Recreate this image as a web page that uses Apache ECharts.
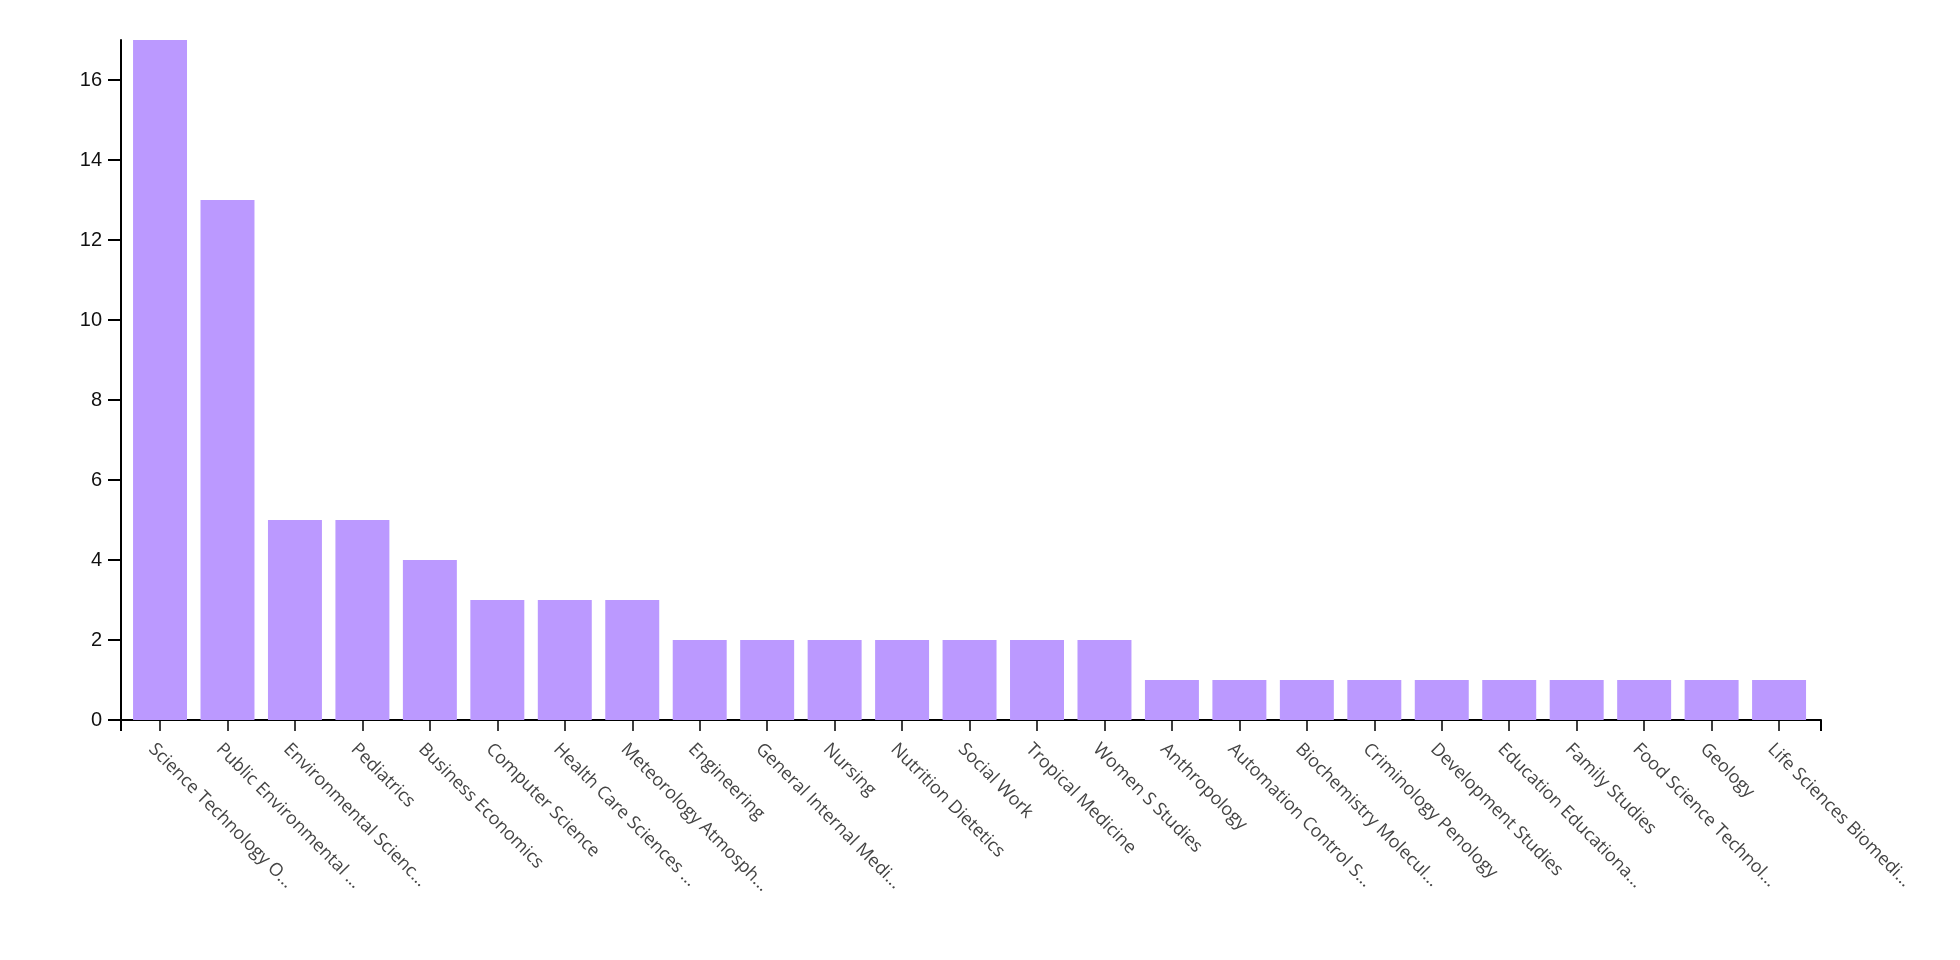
<!DOCTYPE html>
<html>
<head>
<meta charset="utf-8">
<title>Research areas</title>
<script src="https://cdn.jsdelivr.net/npm/echarts@6/dist/echarts.min.js"></script>
<style>
  html, body { margin: 0; padding: 0; background: #fff; }
  #chart { width: 1960px; height: 960px; }
</style>
</head>
<body>
<div id="chart"></div>
<script>
// labels as they appear under the axis (already shortened)
var categories = [
  'Science Technology O...', 'Public Environmental ...', 'Environmental Scienc...',
  'Pediatrics', 'Business Economics', 'Computer Science', 'Health Care Sciences ...',
  'Meteorology Atmosph...', 'Engineering', 'General Internal Medi...', 'Nursing',
  'Nutrition Dietetics', 'Social Work', 'Tropical Medicine', 'Women S Studies',
  'Anthropology', 'Automation Control S...', 'Biochemistry Molecul...',
  'Criminology Penology', 'Development Studies', 'Education Educationa...',
  'Family Studies', 'Food Science Technol...', 'Geology', 'Life Sciences Biomedi...'
];
var counts = [17, 13, 5, 5, 4, 3, 3, 3, 2, 2, 2, 2, 2, 2, 2, 1, 1, 1, 1, 1, 1, 1, 1, 1, 1];
var yMin = 0, yMax = 17, yStep = 2;

var chart = echarts.init(document.getElementById('chart'));

var option = {
  animation: false,
  backgroundColor: '#fff',
  grid: [
    // bars sit in a band slightly inset from the axis line
    { left: 126.3, top: 40, width: 1686.5, height: 680 },
    // full-width grid just for the bottom axis line and its end ticks
    { left: 121, top: 40, width: 1700, height: 680 }
  ],
  xAxis: [
    {
      type: 'category',
      gridIndex: 0,
      data: categories,
      axisLine: { show: false },
      axisTick: {
        show: true, alignWithLabel: true, length: 11,
        lineStyle: { color: '#000', width: 1.5 }
      },
      axisLabel: {
        interval: 0, rotate: -45, margin: 18,
        verticalAlign: 'top', padding: [3, 0, 0, 0],
        fontFamily: 'Open Sans', fontSize: 18, color: '#444'
      },
      splitLine: { show: false }
    },
    {
      type: 'value',
      gridIndex: 1,
      min: 0, max: 1, interval: 1,
      axisLine: { show: true, lineStyle: { color: '#000', width: 2 } },
      axisTick: { show: true, length: 11, lineStyle: { color: '#000', width: 2 } },
      axisLabel: { show: false },
      splitLine: { show: false }
    }
  ],
  yAxis: [
    {
      type: 'value',
      gridIndex: 0,
      min: yMin, max: yMax, interval: yStep,
      offset: 5.3,
      axisLine: { show: true, lineStyle: { color: '#000', width: 2 } },
      axisTick: { show: true, length: 13, lineStyle: { color: '#000', width: 2 } },
      axisLabel: {
        showMaxLabel: false, margin: 19,
        fontFamily: 'Liberation Sans', fontSize: 20, color: '#111'
      },
      splitLine: { show: false }
    },
    { type: 'value', gridIndex: 1, show: false, min: 0, max: 1 }
  ],
  series: [
    {
      type: 'bar',
      xAxisIndex: 0,
      yAxisIndex: 0,
      data: counts,
      barCategoryGap: '20%',
      itemStyle: { color: '#bb99ff' }
    }
  ]
};

chart.setOption(option);
</script>
</body>
</html>
